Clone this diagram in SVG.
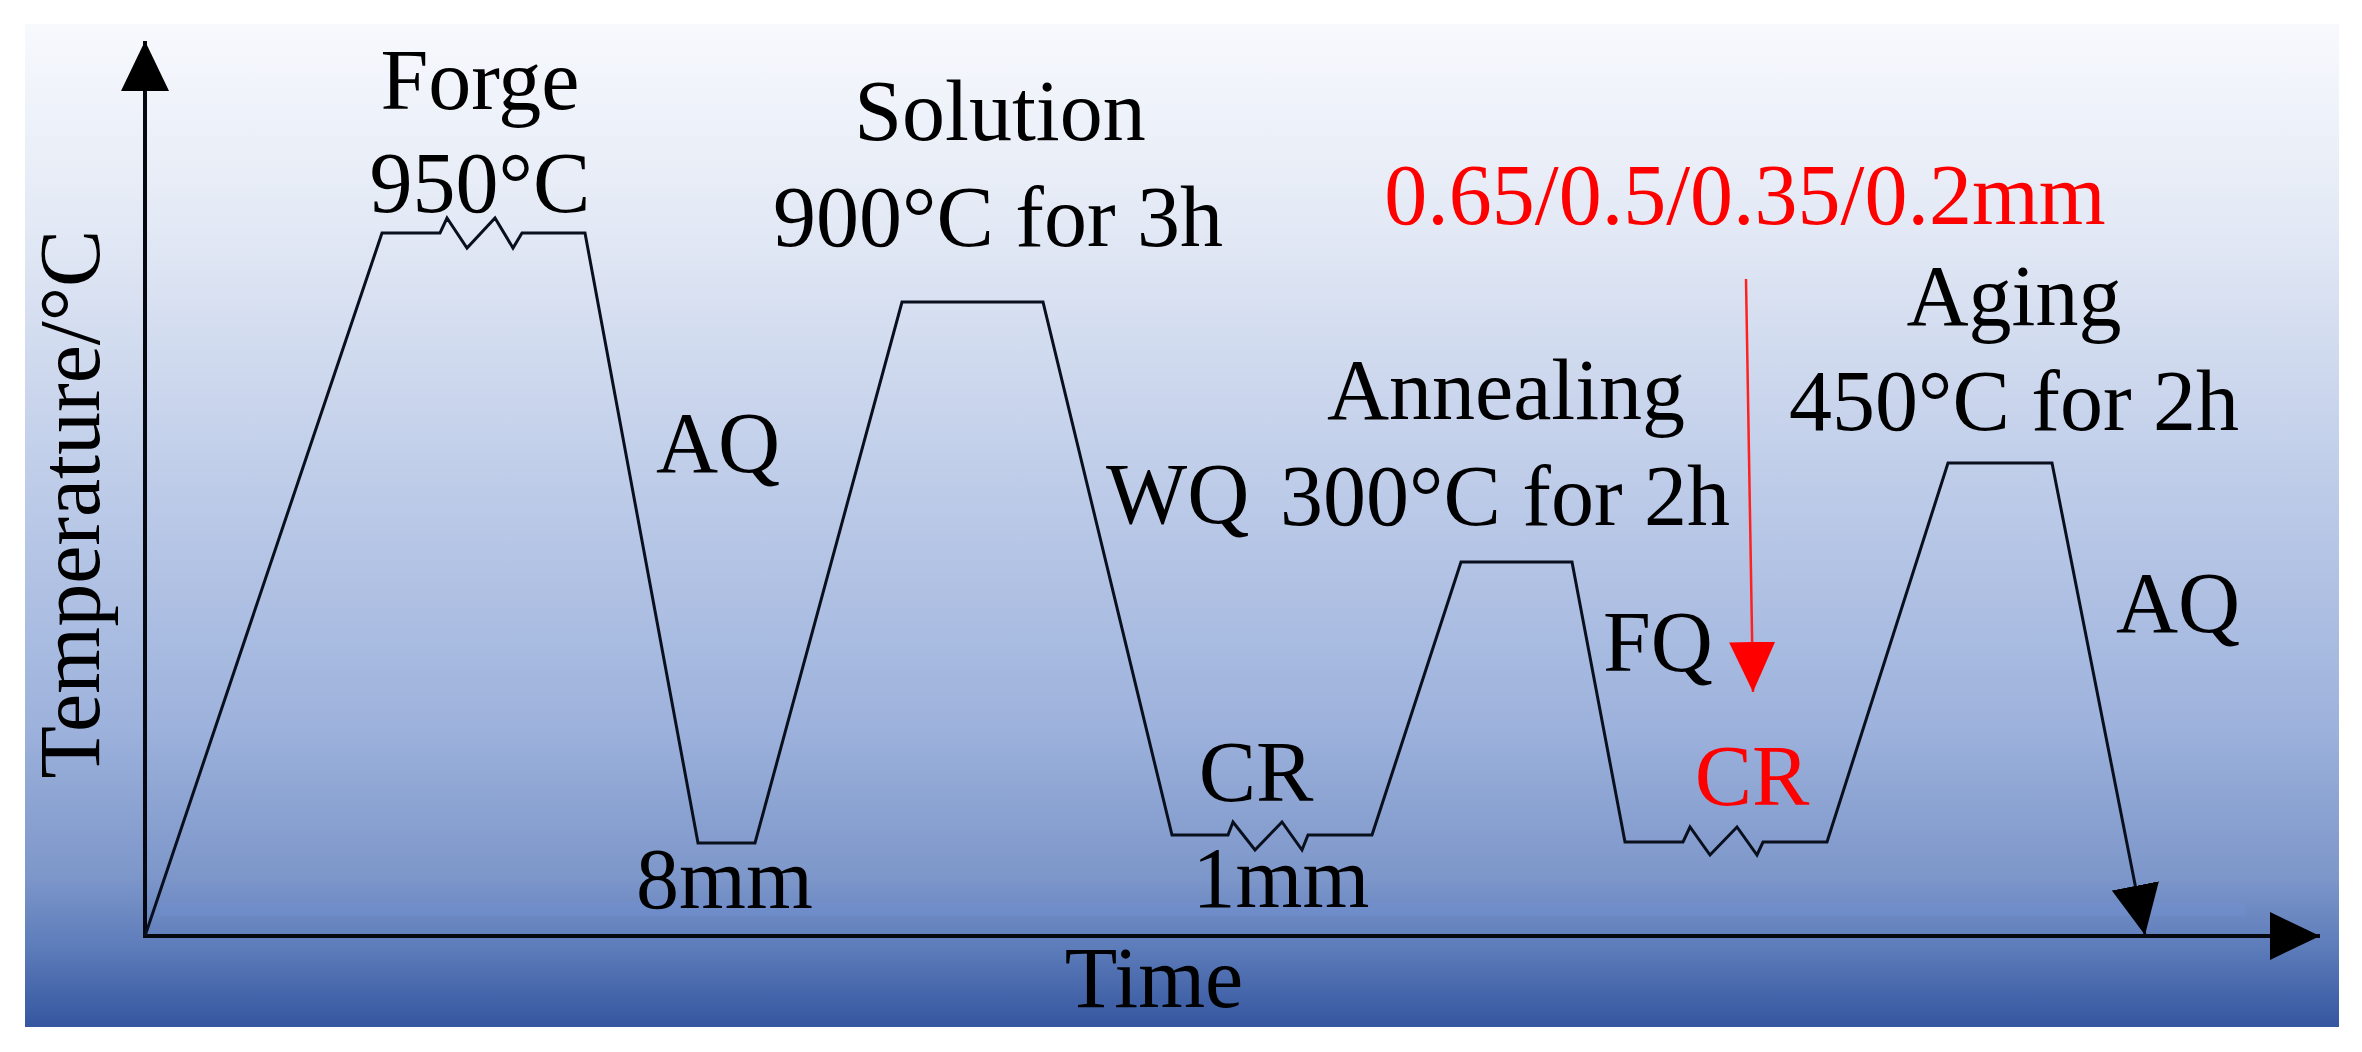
<svg xmlns="http://www.w3.org/2000/svg" width="2362" height="1052" viewBox="0 0 2362 1052">
<style>
text{font-family:"Liberation Serif","Times New Roman",serif;font-size:86px;fill:#000}
.red{fill:#ff0000}
.c{text-anchor:middle}
.line{fill:none;stroke:#0a0f1e;stroke-width:3;stroke-linejoin:miter}
.axis{fill:none;stroke:#05080f;stroke-width:4}
.rarrow{fill:none;stroke:#ff2020;stroke-width:2.5}
</style>
<defs>
<linearGradient id="bg" x1="0" y1="0" x2="0" y2="1">
<stop offset="0" stop-color="#f7f9fd"/>
<stop offset="0.2" stop-color="#e3e9f5"/>
<stop offset="0.45" stop-color="#bfcde9"/>
<stop offset="0.7" stop-color="#9db2dc"/>
<stop offset="0.85" stop-color="#7d97ca"/>
<stop offset="0.92" stop-color="#5d7cba"/>
<stop offset="1" stop-color="#3556a0"/>
</linearGradient>
<marker id="ah" viewBox="0 0 50 48" refX="50" refY="24" markerWidth="50" markerHeight="48" markerUnits="userSpaceOnUse" orient="auto"><path d="M0,0 L50,24 L0,48 z" fill="#000"/></marker>
<marker id="ahr" viewBox="0 0 50 46" refX="50" refY="23" markerWidth="50" markerHeight="46" markerUnits="userSpaceOnUse" orient="auto"><path d="M0,0 L50,23 L0,46 z" fill="#ff0000"/></marker>
</defs>
<rect x="0" y="0" width="2362" height="1052" fill="#ffffff"/>
<rect id="background" x="25" y="24" width="2314" height="1003" fill="url(#bg)"/>
<rect x="160" y="902" width="2085" height="14" fill="#7393d6" opacity="0.35"/>

<g id="connectors">
<path id="y-axis" class="axis" d="M145,938 L145,41" marker-end="url(#ah)"/>
<path id="x-axis" class="axis" d="M143,936 L2320,936" marker-end="url(#ah)"/>
<path id="process" class="line" d="M145,936 L382,233 L440,233 L447,218 L467,248 L495,218 L513,248 L522,233 L585,233 L698,843 L755,843 L902,302 L1043,302 L1172,835 L1228,835 L1233,822 L1255,850 L1282,822 L1302,850 L1308,835 L1372,835 L1461,562 L1572,562 L1625,842 L1683,842 L1690,827 L1710,855 L1737,827 L1757,855 L1763,842 L1827,842 L1948,463 L2052,463 L2145,935" marker-end="url(#ah)"/>
<path id="red-arrow" class="rarrow" d="M1746,279 L1753,692" marker-end="url(#ahr)"/>
</g>

<g id="axis-labels">
<text x="99" y="504" class="c" transform="rotate(-90 99 504)">Temperature/°C</text>
<text x="1154" y="1007" class="c">Time</text>
</g>
<g id="forge">
<text x="480" y="109" class="c">Forge</text>
<text x="480" y="212" class="c">950°C</text>
</g>
<g id="aq1"><text x="656" y="472">AQ</text></g>
<g id="mm8"><text x="636" y="908">8mm</text></g>
<g id="solution">
<text x="1000" y="140" class="c">Solution</text>
<text x="998" y="246" class="c">900°C for 3h</text>
</g>
<g id="wq"><text x="1106" y="523">WQ</text></g>
<g id="cr1">
<text x="1256" y="801" class="c">CR</text>
<text x="1281" y="907" class="c">1mm</text>
</g>
<g id="annealing">
<text x="1506" y="419" class="c">Annealing</text>
<text x="1505" y="525" class="c">300°C for 2h</text>
</g>
<g id="fq"><text x="1603" y="671">FQ</text></g>
<g id="thickness"><text x="1745" y="224" class="c red">0.65/0.5/0.35/0.2mm</text></g>
<g id="cr2"><text x="1752" y="805" class="c red">CR</text></g>
<g id="aging">
<text x="2014" y="325" class="c">Aging</text>
<text x="2014" y="430" class="c">450°C for 2h</text>
</g>
<g id="aq2"><text x="2116" y="632">AQ</text></g>
</svg>
